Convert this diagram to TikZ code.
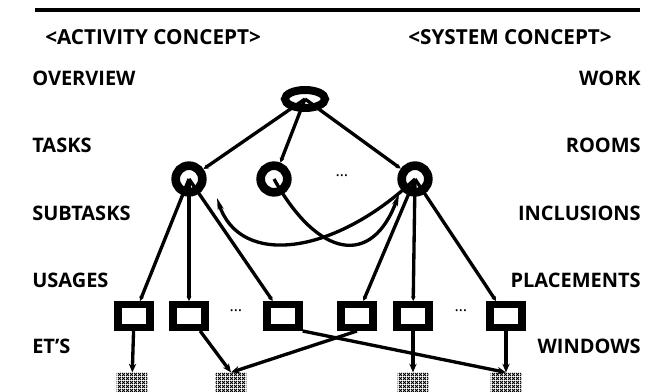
\documentclass[tikz,border=0pt]{standalone}
\usepackage{fontspec}
\setmainfont{Open Sans}
\usetikzlibrary{arrows.meta,patterns.meta,calc,shapes.geometric}

\tikzdeclarepattern{name=mesh,type=uncolored,
  bounding box={(0pt,0pt) and (2.6pt,2.6pt)},tile size={(2.6pt,2.6pt)},
  code={\draw[line width=0.8pt] (0pt,0pt)--(2.6pt,2.6pt) (0pt,2.6pt)--(2.6pt,0pt);}}

\begin{document}
\begin{tikzpicture}[x=0.75pt,y=-0.75pt,>=Stealth,
    lbl/.style={font=\bfseries\fontsize{15}{17}\selectfont,inner sep=0pt},
    head/.style={font=\bfseries\fontsize{15.5}{17}\selectfont,inner sep=0pt},
    ring/.style={circle,draw,line width=6.5pt,minimum size=20pt,inner sep=0pt},
    topring/.style={ellipse,draw,line width=6pt,minimum width=30pt,minimum height=13.5pt,inner sep=0pt},
    etbox/.style={rectangle,draw,line width=5.5pt,minimum width=24pt,minimum height=17pt,inner sep=0pt},
    win/.style={rectangle,pattern=mesh,minimum width=23pt,minimum height=14pt,inner sep=0pt},
    link/.style={line width=2.5pt,-{Stealth[length=3.5pt,width=3.5pt]}},
    down/.style={line width=2.5pt,-{Stealth[length=6.5pt,width=5.5pt]}},
    curvearrow/.style={line width=2.5pt,-{Stealth[length=9pt,width=4.5pt]}}]
\useasboundingbox (0,0) rectangle (672,392);
\draw[line width=2.5pt] (35,10) -- (640,10);
% headers and row labels
\node[head,anchor=west] (hact) at (45,37) {<ACTIVITY CONCEPT>};
\node[head,anchor=east] (hsys) at (612,37) {<SYSTEM CONCEPT>};
\node[lbl,anchor=west] (l1) at (32,78) {OVERVIEW};
\node[lbl,anchor=west] (l2) at (32,145) {TASKS};
\node[lbl,anchor=west] (l3) at (32,213) {SUBTASKS};
\node[lbl,anchor=west] (l4) at (32,280) {USAGES};
\node[lbl,anchor=west] (l5) at (32,346) {ET'S};
\node[lbl,anchor=east] (r1) at (641,78) {WORK};
\node[lbl,anchor=east] (r2) at (641,145) {ROOMS};
\node[lbl,anchor=east] (r3) at (641,213) {INCLUSIONS};
\node[lbl,anchor=east] (r4) at (641,280) {PLACEMENTS};
\node[lbl,anchor=east] (r5) at (641,346) {WINDOWS};
% tree
\node[topring] (ov) at (305,99) {};
\node[ring] (t1) at (189,179) {};
\node[ring] (t2) at (274,179) {};
\node[ring] (t3) at (415,179) {};
\node[font=\large] (td) at (342,176) {\dots};
\foreach \n/\x in {1/134,2/189,3/283,4/357,5/413,6/506}
  \node[etbox] (b\n) at (\x,316) {};
\node[font=\large] (bd1) at (236,311) {\dots};
\node[font=\large] (bd2) at (461,311) {\dots};
\foreach \n/\x in {1/132,2/231,3/413,4/506}
  \node[win] (w\n) at (\x,382) {};
\draw[link] (ov.center) -- (t1);
\draw[link] (ov.center) -- (t2);
\draw[link] (ov.center) -- (t3);
\foreach \n in {1,2,3} \draw[link] (t1.center) -- (b\n);
\foreach \n in {4,5,6} \draw[link] (t3.center) -- (b\n);
\draw[curvearrow] (t2.center) .. controls (318,258) and (372,268) .. ($(t3.center)+(-16,15)$);
\draw[curvearrow] (t3.center) .. controls (335,255) and (240,268) .. ($(t1.center)+(28,19)$);
\draw[down] (b1) -- (w1);
\draw[down] (b2) -- (w2.north);
\draw[down] (b4.south) -- (w2.north);
\draw[down] (b3.south east) -- (w4.north);
\draw[down] (b5) -- (w3);
\draw[down] (b6) -- (w4);
\end{tikzpicture}
\end{document}
